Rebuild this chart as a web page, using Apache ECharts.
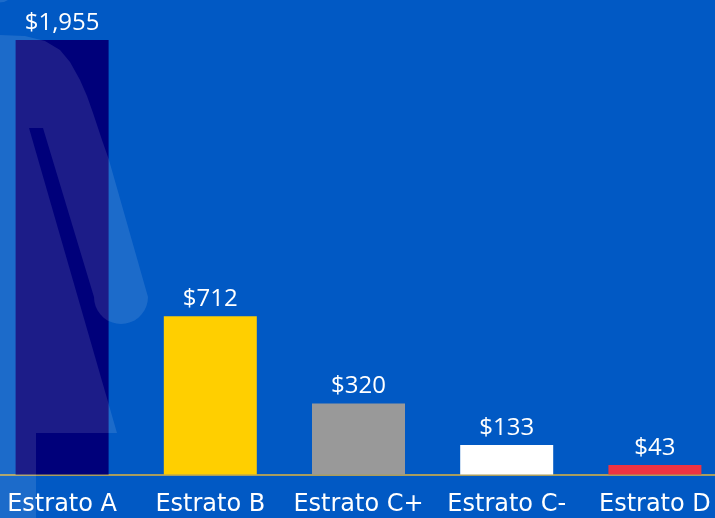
<!DOCTYPE html>
<html>
<head>
<meta charset="utf-8">
<script src="https://cdn.jsdelivr.net/npm/echarts@6/dist/echarts.min.js"></script>
<style>
html,body{margin:0;padding:0;background:#0159c4;overflow:hidden;width:715px;height:518px;}
#c{position:absolute;left:-12px;top:0;width:741px;height:518px;}
</style>
</head>
<body>
<div id="c"></div>
<script>
const categories = ['Estrato A', 'Estrato B', 'Estrato C+', 'Estrato C-', 'Estrato D'];
const values = [1955, 712, 320, 133, 43];
const barColors = ['#00007a', '#ffcf00', '#999999', '#ffffff', '#ee3342'];

// decorative watermark shape (background logo), page coordinates
function watermark() {
  const pts = [[-15,35],[0,35],[25,36],[45,41],[60,50],[70,62],[80,80],[87,96],[93,113],[102,140],[109,160],[148,297]];
  for (let i = 1; i < 18; i++) {
    const t = Math.PI * i / 18;
    pts.push([121 + 27 * Math.cos(t), 297 + 27 * Math.sin(t)]);
  }
  pts.push([94,297],[43,128],[29,128],[117,433],[36,433],[36,518],[-15,518]);
  return pts;
}

const chart = echarts.init(document.getElementById('c'));
chart.setOption({
  backgroundColor: '#0159c4',
  animation: false,
  grid: { left: 0, right: 0, top: 40, bottom: 43.5, containLabel: false },
  xAxis: {
    type: 'category',
    data: categories,
    axisLine: { show: true, lineStyle: { color: '#a89d5e', width: 2 } },
    axisTick: { show: false },
    axisLabel: { interval: 0, color: '#ffffff', fontFamily: 'DejaVu Sans', fontSize: 24, margin: 18 }
  },
  yAxis: {
    type: 'value', min: 0, max: 1955,
    show: false, splitLine: { show: false }
  },
  series: [{
    type: 'bar',
    barWidth: 93,
    data: values.map((v, i) => ({ value: v, itemStyle: { color: barColors[i] } })),
    label: {
      show: true, position: 'top', distance: 5,
      color: '#ffffff', fontFamily: 'Open Sans', fontSize: 24,
      formatter: p => '$' + p.value.toLocaleString('en-US')
    }
  }],
  graphic: [{
    type: 'group', x: 12, y: 0, z: 100, silent: true,
    children: [
      { type: 'polygon', z: 100, shape: { points: watermark() }, style: { fill: 'rgba(255,255,255,0.11)' } },
      { type: 'polygon', z: 100, shape: { points: [[-15,0],[8,0],[4,2],[-15,4]] }, style: { fill: 'rgba(255,255,255,0.11)' } }
    ]
  }]
});
</script>
</body>
</html>
